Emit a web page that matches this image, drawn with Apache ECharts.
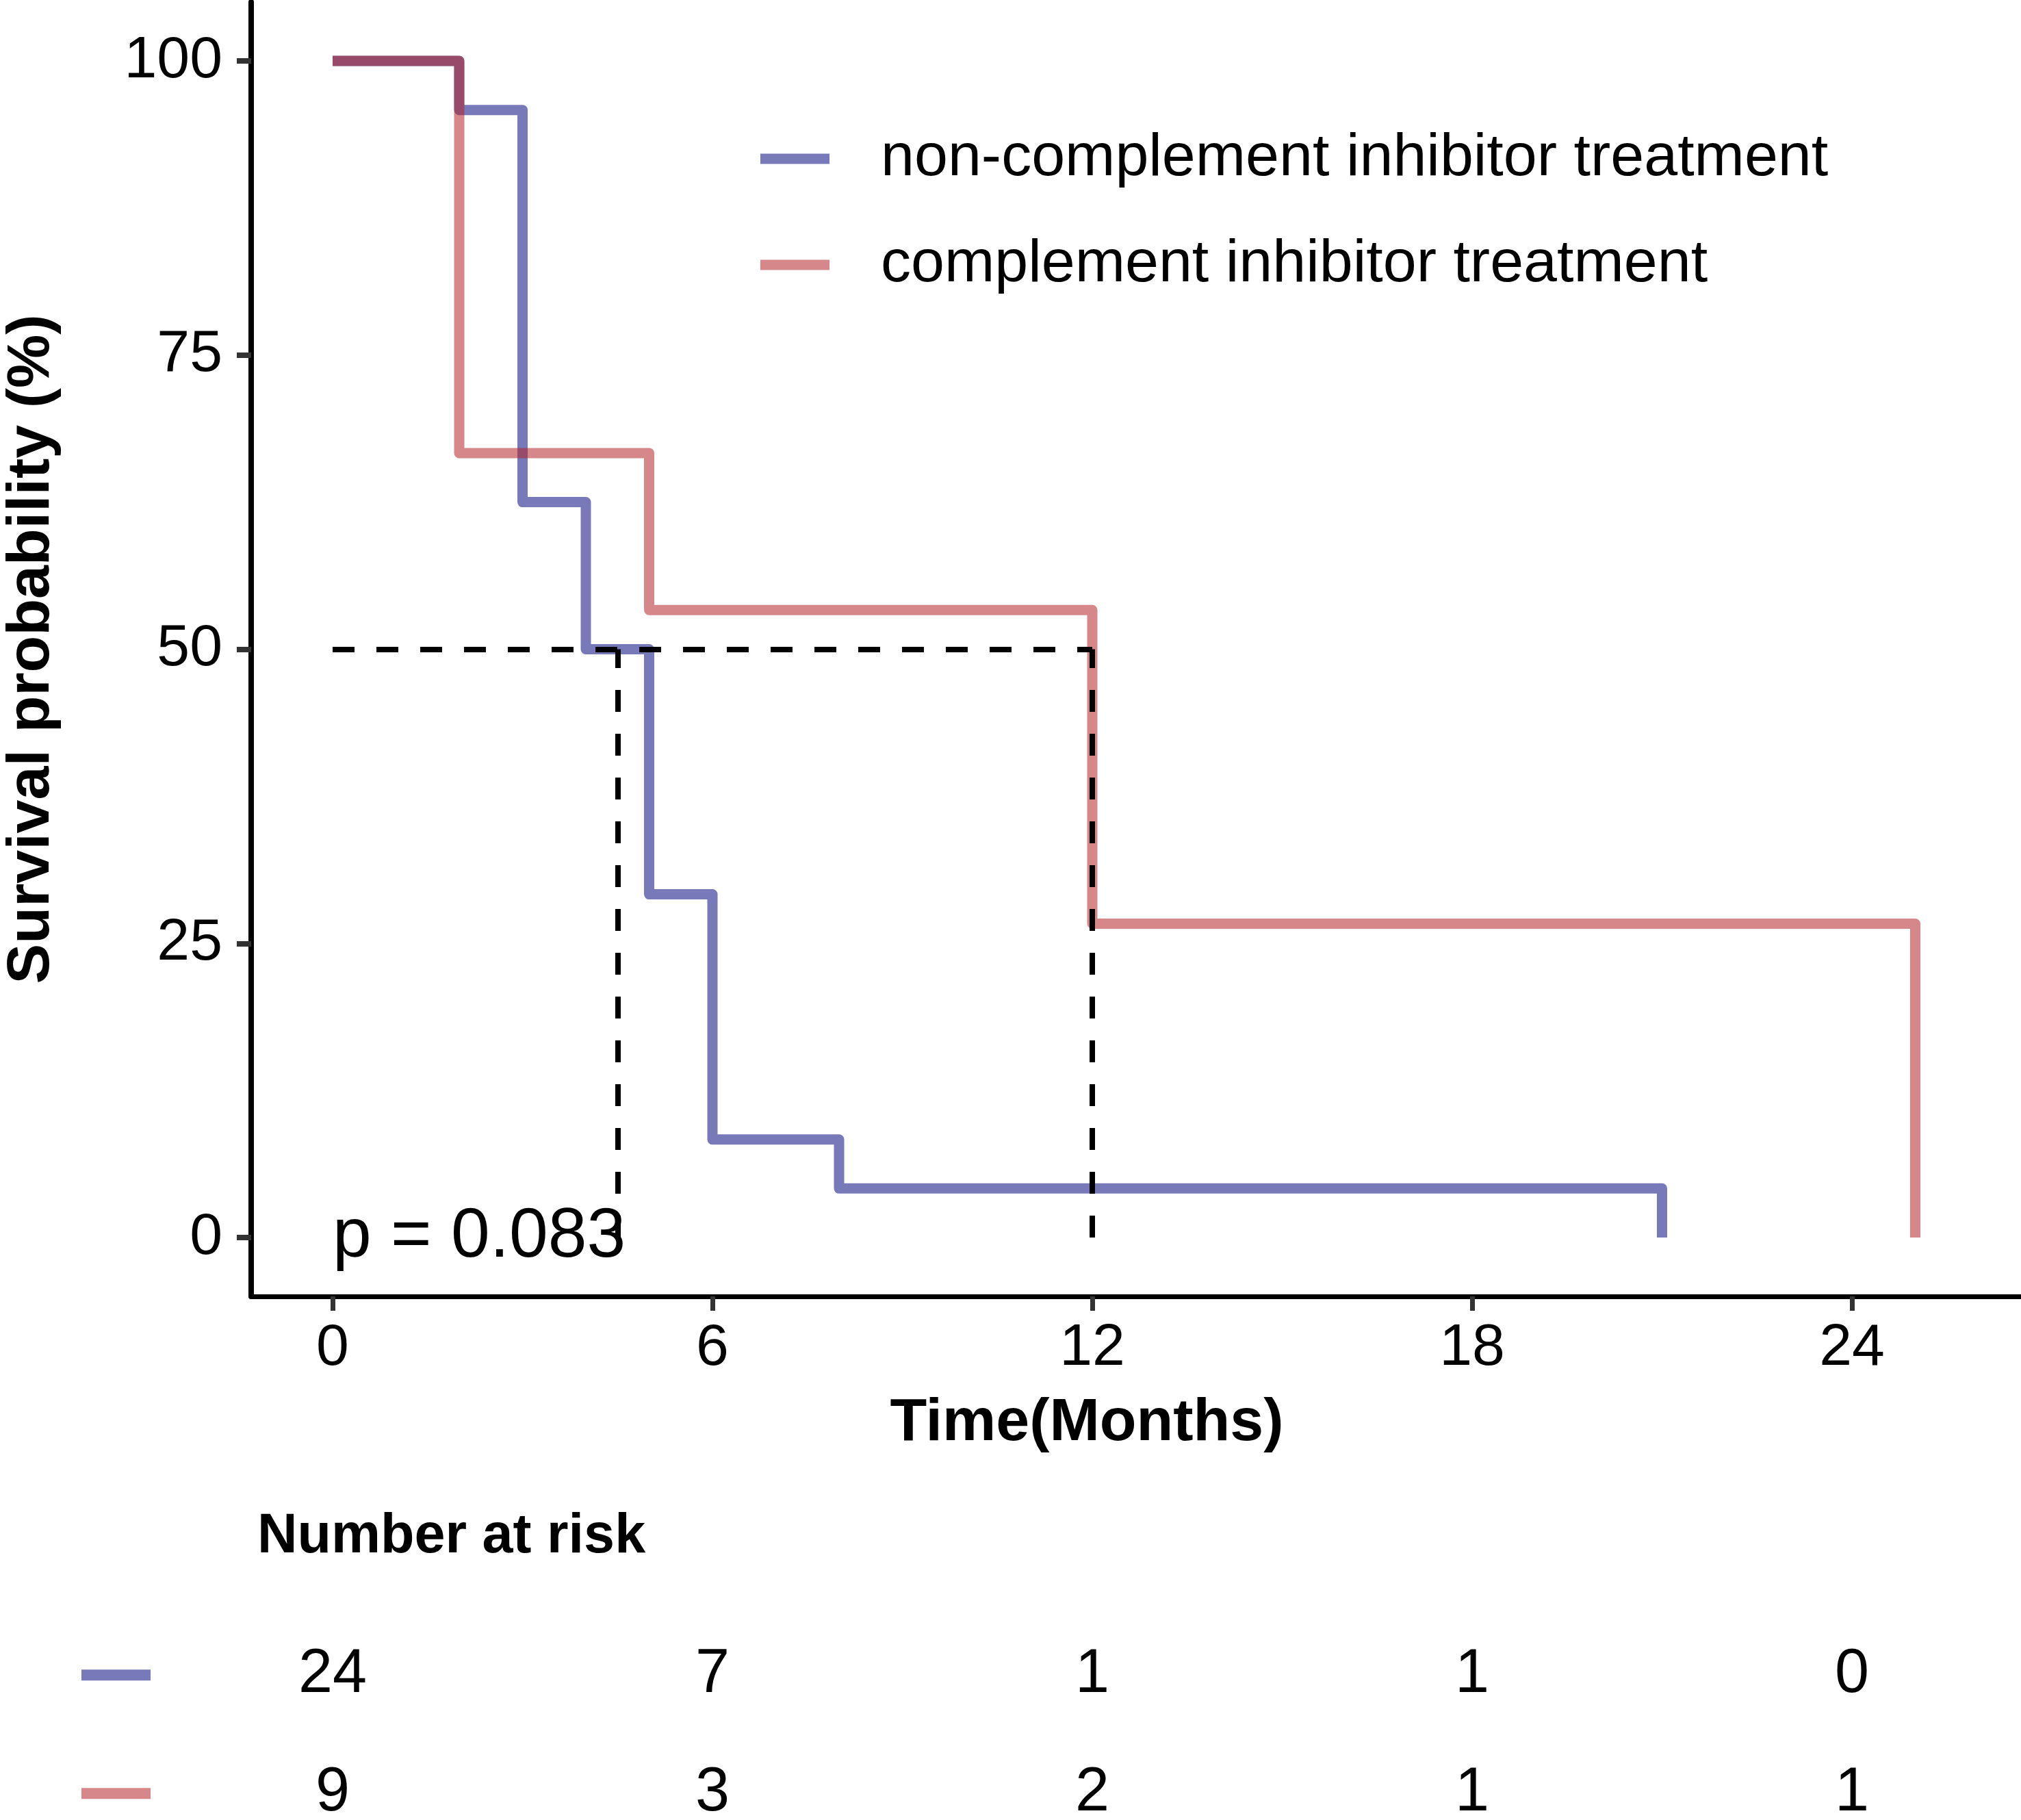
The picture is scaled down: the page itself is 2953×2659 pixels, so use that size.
<!DOCTYPE html>
<html>
<head>
<meta charset="utf-8">
<script src="https://cdn.jsdelivr.net/npm/echarts@6/dist/echarts.min.js"></script>
<style>
html,body{margin:0;padding:0;background:#fff;}
#chart{width:2953px;height:2659px;}
</style>
</head>
<body>
<div id="chart"></div>
<script>
// ---- data ----
const seriesNames = ['non-complement inhibitor treatment', 'complement inhibitor treatment'];
const nonTimes = [0, 2, 3, 4, 5, 6, 8, 21];
const nonSurv = [100, 95.83, 62.5, 50, 29.17, 8.33, 4.17, 0];
const compTimes = [0, 2, 5, 12, 25];
const compSurv = [100, 66.67, 53.33, 26.67, 0];
const medianLevel = 50;
const medianTimes = [4.5, 12];
const xTicks = [0, 6, 12, 18, 24];
const yTicks = [0, 25, 50, 75, 100];
const riskTimes = [0, 6, 12, 18, 24];
const riskNon = [24, 7, 1, 1, 0];
const riskComp = [9, 3, 2, 1, 1];
const pText = 'p = 0.083';

// ---- styling ----
const FONT = "'Liberation Sans', Arial, Helvetica, sans-serif";
const blue = 'rgba(46,49,146,0.65)';
const red = 'rgba(178,37,42,0.55)';
const XMIN = -1.2865, XMAX = 26.67;

function pairs(t, v) { return t.map((x, i) => [x, v[i]]); }

const medianLines = [[{coord: [0, medianLevel]}, {coord: [Math.max(...medianTimes), medianLevel]}]]
  .concat(medianTimes.map(t => [{coord: [t, 0]}, {coord: [t, medianLevel]}]));

const textLabel = (size) => ({fontSize: size, color: '#000', fontFamily: FONT, opacity: 1, textBorderWidth: 0});

const chart = echarts.init(document.getElementById('chart'), null, {renderer: 'canvas'});
chart.setOption({
  animation: false,
  backgroundColor: '#fff',
  textStyle: {fontFamily: FONT},
  title: {
    text: 'Number at risk',
    left: 371, top: 2200,
    textStyle: {fontFamily: FONT, fontWeight: 'bold', fontSize: 81, color: '#000'}
  },
  legend: {
    orient: 'vertical',
    left: 1106, top: 177,
    itemWidth: 101, itemHeight: 15,
    itemGap: 55,
    icon: 'rect',
    selectedMode: false,
    data: [
      {name: seriesNames[0], itemStyle: {color: blue}},
      {name: seriesNames[1], itemStyle: {color: red}}
    ],
    textStyle: {fontFamily: FONT, fontSize: 88, lineHeight: 100, color: '#000', padding: [0, 0, 0, 70]}
  },
  grid: [
    {left: 367, right: 0, top: 3, bottom: 765, containLabel: false, outerBoundsMode: 'none'},
    {left: 367, right: 0, top: 2274, bottom: 4, containLabel: false, outerBoundsMode: 'none'}
  ],
  xAxis: [
    {
      type: 'value', gridIndex: 0, min: XMIN, max: XMAX,
      name: 'Time(Months)', nameLocation: 'middle', nameGap: 142,
      nameTextStyle: {fontFamily: FONT, fontWeight: 'bold', fontSize: 88, color: '#000', padding: [0, 144, 0, 0]},
      axisLine: {show: true, onZero: false, lineStyle: {color: '#000', width: 7}},
      axisTick: {show: true, length: 21, lineStyle: {color: '#333', width: 7}, customValues: xTicks},
      axisLabel: {show: true, margin: 33, fontSize: 86, color: '#000', fontFamily: FONT, customValues: xTicks},
      splitLine: {show: false}
    },
    {
      type: 'value', gridIndex: 1, min: XMIN, max: XMAX,
      show: false
    }
  ],
  yAxis: [
    {
      type: 'value', gridIndex: 0, min: -5, max: 105,
      name: 'Survival probability (%)', nameLocation: 'middle', nameGap: 276, nameRotate: 90,
      nameTextStyle: {fontFamily: FONT, fontWeight: 'bold', fontSize: 88, color: '#000'},
      axisLine: {show: true, onZero: false, lineStyle: {color: '#000', width: 8}},
      axisTick: {show: true, length: 21, lineStyle: {color: '#333', width: 8}, customValues: yTicks},
      axisLabel: {show: true, margin: 42, fontSize: 86, color: '#000', fontFamily: FONT, customValues: yTicks},
      splitLine: {show: false}
    },
    {
      type: 'value', gridIndex: 1, min: 0, max: 2.2, inverse: true,
      axisLine: {show: false}, axisTick: {show: false}, splitLine: {show: false},
      axisLabel: {
        show: true, margin: 147, customValues: [1, 2],
        formatter: v => v === 1 ? '{b|}' : '{r|}',
        rich: {
          b: {backgroundColor: blue, width: 101, height: 16},
          r: {backgroundColor: red, width: 101, height: 16}
        }
      }
    }
  ],
  series: [
    {
      name: seriesNames[0], type: 'line', step: 'end', xAxisIndex: 0, yAxisIndex: 0,
      data: pairs(nonTimes, nonSurv), showSymbol: false, symbol: 'none',
      color: blue,
      lineStyle: {color: blue, width: 15, join: 'round', cap: 'butt'},
      z: 2
    },
    {
      name: seriesNames[1], type: 'line', step: 'end', xAxisIndex: 0, yAxisIndex: 0,
      data: pairs(compTimes, compSurv), showSymbol: false, symbol: 'none',
      color: red,
      lineStyle: {color: red, width: 15, join: 'round', cap: 'butt'},
      z: 3
    },
    {
      name: 'median', type: 'line', xAxisIndex: 0, yAxisIndex: 0, data: [], z: 5,
      markLine: {
        silent: true, symbol: ['none', 'none'], label: {show: false},
        lineStyle: {color: '#000', width: 8, type: [32, 32]},
        emphasis: {disabled: true},
        data: medianLines
      }
    },
    {
      name: 'pvalue', type: 'scatter', xAxisIndex: 0, yAxisIndex: 0,
      data: [[0, 0]], symbolSize: 0, silent: true, z: 6,
      itemStyle: {opacity: 1},
      label: Object.assign({show: true, position: 'right', distance: 0, formatter: pText}, textLabel(102))
    },
    {
      name: 'riskNon', type: 'scatter', xAxisIndex: 1, yAxisIndex: 1,
      data: riskTimes.map((t, i) => [t, 1, riskNon[i]]), symbolSize: 0, silent: true,
      itemStyle: {opacity: 1},
      label: Object.assign({show: true, position: 'inside', formatter: p => String(p.value[2])}, textLabel(90))
    },
    {
      name: 'riskComp', type: 'scatter', xAxisIndex: 1, yAxisIndex: 1,
      data: riskTimes.map((t, i) => [t, 2, riskComp[i]]), symbolSize: 0, silent: true,
      itemStyle: {opacity: 1},
      label: Object.assign({show: true, position: 'inside', formatter: p => String(p.value[2])}, textLabel(90))
    }
  ]
});
</script>
</body>
</html>
